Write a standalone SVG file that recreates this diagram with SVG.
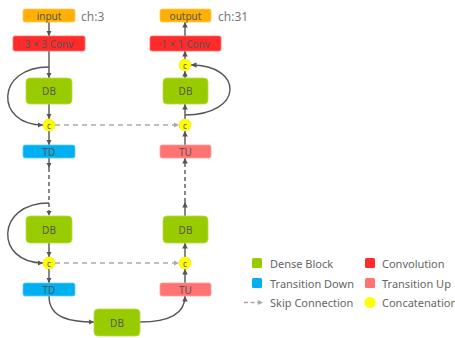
<svg xmlns="http://www.w3.org/2000/svg" width="455" height="338" viewBox="0 0 455 338">
<defs>
<style>
.t{font-family:"Noto Sans","Open Sans","Liberation Sans",sans-serif;font-size:10px;fill:#555;text-anchor:middle;dominant-baseline:central}
.lg{font-family:"Noto Sans","Open Sans","Liberation Sans",sans-serif;font-size:11px;fill:#666;dominant-baseline:central}
.ch{font-family:"Noto Sans","Open Sans","Liberation Sans",sans-serif;font-size:12px;fill:#777;dominant-baseline:central}
.ln{stroke:#555;stroke-width:1.4;fill:none}
.dl{stroke:#555;stroke-width:1.4;fill:none;stroke-dasharray:4,3}
.sk{stroke:#aaa;stroke-width:1.4;fill:none;stroke-dasharray:5,4}
.db{fill:#99CC00;stroke:#b5dd40;stroke-width:0.8}
.td{fill:#00B0F0;stroke:#60cdf5;stroke-width:0.8}
.tu{fill:#FF7373;stroke:#ff9f9f;stroke-width:0.8}
.cv{fill:#FF2A2A;stroke:#ff7070;stroke-width:0.8}
.io{fill:#FFB000;stroke:#ffcc55;stroke-width:0.8}
.cc{fill:#FFFF00;stroke:#f0e000;stroke-width:0.6}
</style>
<marker id="a" viewBox="0 0 6 6" refX="6" refY="3" markerWidth="5.5" markerHeight="5.5" markerUnits="userSpaceOnUse" orient="auto"><path d="M0,0 L6,3 L0,6 z" fill="#555"/></marker>
<marker id="ag" viewBox="0 0 6 6" refX="6" refY="3" markerWidth="5.5" markerHeight="5.5" markerUnits="userSpaceOnUse" orient="auto"><path d="M0,0 L6,3 L0,6 z" fill="#aaa"/></marker>
</defs>
<g id="connectors">
<line class="ln" x1="49" y1="22" x2="49" y2="36" marker-end="url(#a)"/>
<line class="ln" x1="49" y1="51" x2="49" y2="78" marker-end="url(#a)"/>
<line class="ln" x1="49" y1="104" x2="49" y2="119" marker-end="url(#a)"/>
<line class="ln" x1="49" y1="131" x2="49" y2="145" marker-end="url(#a)"/>
<path class="ln" d="M49,67 C-5,67 -5,125 43,125" marker-end="url(#a)"/>
<line class="sk" x1="55" y1="125" x2="179" y2="125" marker-end="url(#ag)"/>
<line class="ln" x1="49" y1="158" x2="49" y2="168" marker-end="url(#a)"/>
<line class="dl" x1="49" y1="168" x2="49" y2="216" marker-end="url(#a)"/>
<path class="ln" d="M49,203 C-5,203 -5,263 43,263" marker-end="url(#a)"/>
<line class="ln" x1="49" y1="243" x2="49" y2="257" marker-end="url(#a)"/>
<line class="ln" x1="49" y1="269" x2="49" y2="283" marker-end="url(#a)"/>
<line class="sk" x1="55" y1="263" x2="179" y2="263" marker-end="url(#ag)"/>
<path class="ln" d="M49,296 C49,318 70,322 94,322" marker-end="url(#a)"/>
<path class="ln" d="M140,322 C166,322 185,316 185,296" marker-end="url(#a)"/>
<line class="ln" x1="185" y1="283" x2="185" y2="269" marker-end="url(#a)"/>
<line class="ln" x1="185" y1="257" x2="185" y2="243" marker-end="url(#a)"/>
<line class="ln" x1="185" y1="216" x2="185" y2="202" marker-end="url(#a)"/>
<line class="dl" x1="185" y1="202" x2="185" y2="158" marker-end="url(#a)"/>
<line class="ln" x1="185" y1="145" x2="185" y2="131" marker-end="url(#a)"/>
<line class="ln" x1="185" y1="119" x2="185" y2="104" marker-end="url(#a)"/>
<line class="ln" x1="185" y1="78" x2="185" y2="71" marker-end="url(#a)"/>
<path class="ln" d="M185,115 C244,115 244,65 191,65" marker-end="url(#a)"/>
<line class="ln" x1="185" y1="59" x2="185" y2="51" marker-end="url(#a)"/>
<line class="ln" x1="185" y1="36" x2="185" y2="22" marker-end="url(#a)"/>
</g>
<g id="input"><rect class="io" x="23" y="9" width="52" height="13" rx="2"/><text class="t" x="49" y="15.5">input</text></g>
<text class="ch" x="81" y="16">ch:3</text>
<g id="conv3"><rect class="cv" x="13" y="36" width="72" height="15" rx="2"/><text class="t" x="49" y="43.5">3 × 3 Conv</text></g>
<g id="db1"><rect class="db" x="26" y="78" width="46" height="26" rx="4"/><text class="t" x="49" y="91">DB</text></g>
<g id="c1"><circle class="cc" cx="49" cy="125" r="6"/><text class="t" x="49" y="125" style="font-size:8px">c</text></g>
<g id="td1"><rect class="td" x="23" y="145" width="52" height="13" rx="2"/><text class="t" x="49" y="151.5">TD</text></g>
<g id="db2"><rect class="db" x="26" y="216" width="46" height="27" rx="4"/><text class="t" x="49" y="229.5">DB</text></g>
<g id="c2"><circle class="cc" cx="49" cy="263" r="6"/><text class="t" x="49" y="263" style="font-size:8px">c</text></g>
<g id="td2"><rect class="td" x="23" y="283" width="52" height="13" rx="2"/><text class="t" x="49" y="289.5">TD</text></g>
<g id="db3"><rect class="db" x="94" y="309" width="46" height="27" rx="4"/><text class="t" x="117" y="322.5">DB</text></g>
<g id="output"><rect class="io" x="160" y="9" width="51" height="13" rx="2"/><text class="t" x="185.5" y="15.5">output</text></g>
<text class="ch" x="218" y="16">ch:31</text>
<g id="conv1"><rect class="cv" x="150" y="36" width="71" height="15" rx="2"/><text class="t" x="185.5" y="43.5">1 × 1 Conv</text></g>
<g id="c5"><circle class="cc" cx="185" cy="65" r="6"/><text class="t" x="185" y="65" style="font-size:8px">c</text></g>
<g id="db5"><rect class="db" x="163" y="78" width="45" height="26" rx="4"/><text class="t" x="185.5" y="91">DB</text></g>
<g id="c4"><circle class="cc" cx="185" cy="125" r="6"/><text class="t" x="185" y="125" style="font-size:8px">c</text></g>
<g id="tu2"><rect class="tu" x="160" y="145" width="51" height="13" rx="2"/><text class="t" x="185.5" y="151.5">TU</text></g>
<g id="db4"><rect class="db" x="163" y="216" width="45" height="27" rx="4"/><text class="t" x="185.5" y="229.5">DB</text></g>
<g id="c3"><circle class="cc" cx="185" cy="263" r="6"/><text class="t" x="185" y="263" style="font-size:8px">c</text></g>
<g id="tu1"><rect class="tu" x="160" y="283" width="51" height="13" rx="2"/><text class="t" x="185.5" y="289.5">TU</text></g>
<g id="legend">
<rect x="252" y="258" width="10" height="10" rx="1.5" fill="#99CC00"/><text class="lg" x="270" y="263">Dense Block</text>
<rect x="365" y="258" width="10" height="10" rx="1.5" fill="#FF2A2A"/><text class="lg" x="382" y="263">Convolution</text>
<rect x="252" y="278" width="10" height="10" rx="1.5" fill="#00B0F0"/><text class="lg" x="270" y="283">Transition Down</text>
<rect x="365" y="278" width="10" height="10" rx="1.5" fill="#FF7373"/><text class="lg" x="382" y="283">Transition Up</text>
<line class="sk" x1="244" y1="302.5" x2="263" y2="302.5" style="stroke-dasharray:4,2.5" marker-end="url(#ag)"/><text class="lg" x="270" y="302.5">Skip Connection</text>
<circle cx="370" cy="302.5" r="5.5" fill="#FFFF00"/><text class="lg" x="382" y="302.5">Concatenation</text>
</g>
</svg>
